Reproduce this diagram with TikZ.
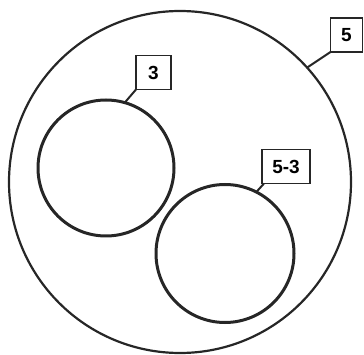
\documentclass[tikz,border=0pt]{standalone}
\usepackage{fontspec}
\setmainfont{Liberation Sans}
\begin{document}
\begin{tikzpicture}[x=1pt,y=-1pt,
  ring/.style={draw=black!85, circle, inner sep=0pt, outer sep=0pt},
  tag/.style={draw=black!85, line width=1.9pt, fill=white, inner sep=0pt, outer sep=0pt,
     minimum height=34pt, font=\fontsize{19}{22}\selectfont\bfseries},
  leader/.style={draw=black!85, line width=2pt}]
\useasboundingbox (0,0) rectangle (364,355);
\node[ring, line width=2.2pt, minimum size=342pt] (big) at (180,182) {};
\node[ring, line width=3pt, minimum size=136pt] (c3) at (106,168) {};
\node[ring, line width=3pt, minimum size=138pt] (c53) at (225,253.5) {};
\node[tag, minimum width=32pt] (t5) at (346.5,35) {5};
\node[tag, minimum width=35pt] (t3) at (153.5,72.5) {3};
\node[tag, minimum width=48pt] (t53) at (286,166.5) {5-3};
\draw[leader] (t5.south west) -- (big.42);
\draw[leader] (t3.south west) -- (c3.74);
\draw[leader] ([xshift=2pt]t53.south west) -- (c53.63);
\end{tikzpicture}
\end{document}
